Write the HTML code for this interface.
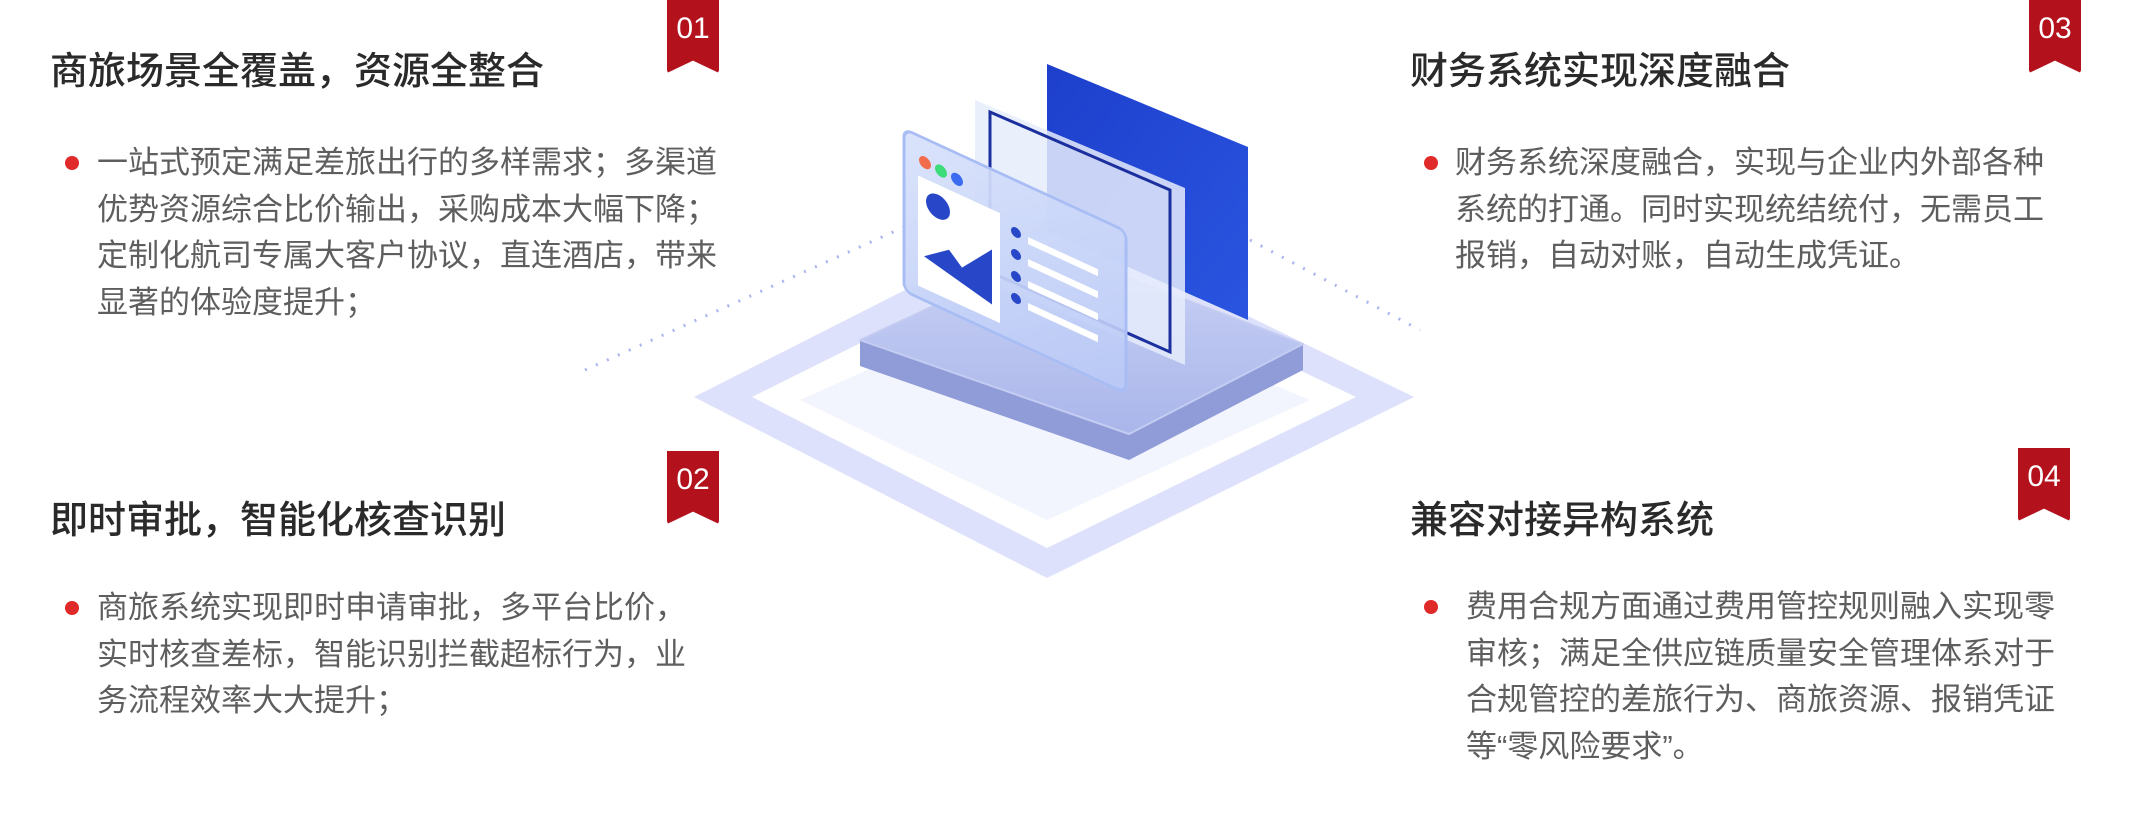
<!DOCTYPE html>
<html><head><meta charset="utf-8"><style>
*{margin:0;padding:0;box-sizing:border-box}
body{width:2132px;height:822px;background:#fff;position:relative;overflow:hidden;font-family:"Liberation Sans","Noto Sans CJK SC",sans-serif}
.t{position:absolute;font-size:38px;color:#2a2a2a;font-weight:500;white-space:nowrap;line-height:44px}
.p{position:absolute;font-size:31px;color:#5e5e5e;line-height:46.5px;white-space:nowrap}
.dot{position:absolute;width:14px;height:14px;border-radius:50%;background:#e02a2a}
.b{position:absolute;width:52px;height:73px;background:#b3121c;color:#fff;font-size:30px;text-align:center;padding-top:12px;clip-path:polygon(0 0,100% 0,100% 100%,50% 83%,0 100%);border-radius:0 0 3px 3px}
svg{position:absolute;left:0;top:0}
</style></head><body>
<svg width="2132" height="822" viewBox="0 0 2132 822">
<defs>
<linearGradient id="bl" x1="0" y1="0" x2="1" y2="1"><stop offset="0" stop-color="#1d3fcc"/><stop offset="1" stop-color="#2a55e0"/></linearGradient>
<linearGradient id="pl" x1="0" y1="0" x2="0" y2="1"><stop offset="0" stop-color="#c9d2f5"/><stop offset="1" stop-color="#aab6ea"/></linearGradient>
<linearGradient id="cd" x1="0" y1="0" x2="1" y2="1"><stop offset="0" stop-color="#d8e2fb" stop-opacity=".95"/><stop offset="1" stop-color="#b9c8f6" stop-opacity=".9"/></linearGradient>
</defs>
<g stroke="#aab5ee" stroke-width="3" stroke-dasharray="2 10" fill="none">
<line x1="585" y1="370" x2="920" y2="220"/>
<line x1="1250" y1="240" x2="1420" y2="330"/>
</g>
<polygon points="694,397 1047,218 1414,397 1047,578" fill="#dde1fb"/>
<polygon points="752,397 1047,250 1356,397 1047,548" fill="#fff"/>
<polygon points="800,400 1047,290 1310,400 1047,520" fill="#f3f5fe"/>
<polygon points="860,340 860,366 1129,460 1303,370 1303,344 1129,434" fill="#909cd8"/>
<polygon points="860,340 1054,250 1303,344 1129,434" fill="url(#pl)" stroke="#c4ccf2" stroke-width="2" stroke-linejoin="round"/>
<polygon points="1047,64 1248,147 1248,320 1047,231" fill="url(#bl)"/>
<polygon points="975,100 1185,188 1185,365 975,275" fill="#e6ecfc" opacity=".85"/>
<polygon points="990,112 1170,190 1170,352 990,272" fill="none" stroke="#1b2f9e" stroke-width="3"/>
<g transform="matrix(1,0.46,0,1,904,129)">
<rect x="0" y="0" width="222" height="162" rx="8" fill="url(#cd)" stroke="#a9bdf5" stroke-width="3"/>
<circle cx="21" cy="24" r="6" fill="#f26b4a"/><circle cx="37" cy="25" r="6" fill="#3ddc7a"/><circle cx="53" cy="26" r="6" fill="#3b6cf0"/>
<rect x="14" y="40" width="82" height="110" fill="#fff"/>
<circle cx="34" cy="62" r="12" fill="#2747c8"/>
<polygon points="20,118 45,100 58,112 88,80 88,135" fill="#2747c8"/>
<g fill="#2747c8"><circle cx="112" cy="52" r="5"/><circle cx="112" cy="74" r="5"/><circle cx="112" cy="96" r="5"/><circle cx="112" cy="118" r="5"/></g>
<g fill="#fff"><rect x="124" y="51" width="70" height="7"/><rect x="124" y="73" width="70" height="7"/><rect x="124" y="95" width="70" height="7"/><rect x="124" y="117" width="70" height="7"/></g>
</g>
</svg>

<div class="b" style="left:667px;top:0">01</div>
<div class="t" style="left:50px;top:50px">商旅场景全覆盖，资源全整合</div>
<div class="dot" style="left:65px;top:156px"></div>
<div class="p" style="left:97px;top:140px">一站式预定满足差旅出行的多样需求；多渠道<br>优势资源综合比价输出，采购成本大幅下降；<br>定制化航司专属大客户协议，直连酒店，带来<br>显著的体验度提升；</div>

<div class="b" style="left:667px;top:451px">02</div>
<div class="t" style="left:50px;top:499px">即时审批，智能化核查识别</div>
<div class="dot" style="left:65px;top:601px"></div>
<div class="p" style="left:97px;top:585px">商旅系统实现即时申请审批，多平台比价，<br>实时核查差标，智能识别拦截超标行为，业<br>务流程效率大大提升；</div>

<div class="b" style="left:2029px;top:0">03</div>
<div class="t" style="left:1410px;top:50px">财务系统实现深度融合</div>
<div class="dot" style="left:1424px;top:156px"></div>
<div class="p" style="left:1455px;top:140px">财务系统深度融合，实现与企业内外部各种<br>系统的打通。同时实现统结统付，无需员工<br>报销，自动对账，自动生成凭证。</div>

<div class="b" style="left:2018px;top:448px">04</div>
<div class="t" style="left:1410px;top:499px">兼容对接异构系统</div>
<div class="dot" style="left:1424px;top:600px"></div>
<div class="p" style="left:1466px;top:584px">费用合规方面通过费用管控规则融入实现零<br>审核；满足全供应链质量安全管理体系对于<br>合规管控的差旅行为、商旅资源、报销凭证<br>等“零风险要求”。</div>
</body></html>
